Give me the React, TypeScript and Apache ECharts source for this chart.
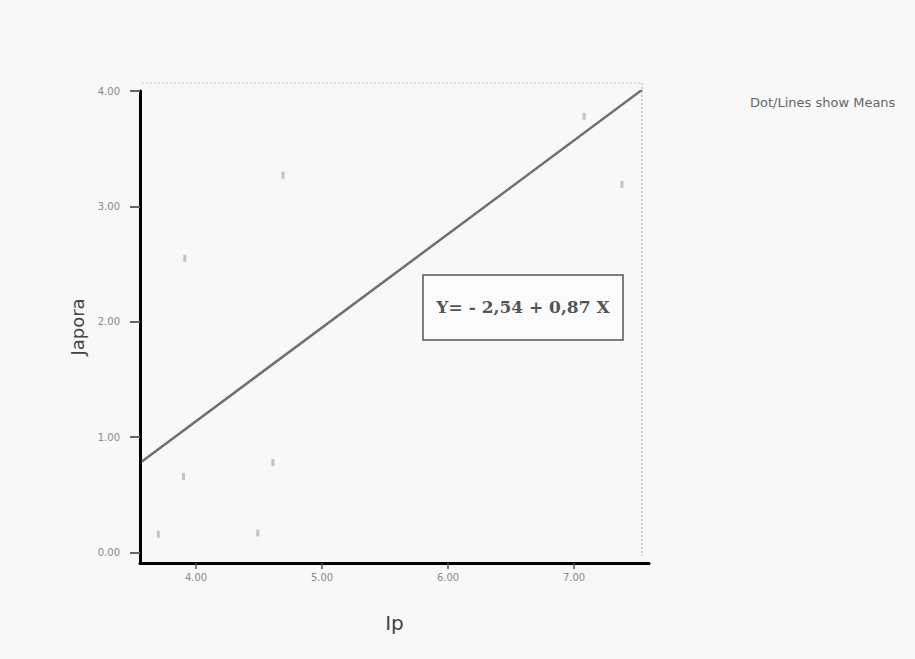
import React, { useEffect, useRef } from "react";
import * as echarts from "echarts";

const yTickValues = [0, 1, 2, 3, 4];
const xTickValues = [4, 5, 6, 7];
const fitLine = [
  [3.57, 0.79],
  [7.54, 4.01],
];
const casePoints = [
  [3.7, 0.16],
  [3.9, 0.66],
  [4.49, 0.17],
  [4.61, 0.78],
  [3.91, 2.55],
  [4.69, 3.27],
  [7.08, 3.78],
  [7.38, 3.19],
];
const equationText = "Y= - 2,54 + 0,87 X";
const noteText = "Dot/Lines show Means";
const xName = "Ip";
const yName = "Japora";

export default function App() {
  const ref = useRef<HTMLDivElement>(null);
  useEffect(() => {
    if (!ref.current) return;
    const chart = echarts.init(ref.current, null, { renderer: "svg" });
    chart.setOption({
      animation: false,
      backgroundColor: "#f8f8f8",
      grid: { left: 140, top: 91, right: 266, bottom: 96 },
      xAxis: {
        type: "value",
        min: 3.555,
        max: 7.595,
        name: xName,
        nameLocation: "middle",
        nameGap: 50,
        nameTextStyle: { fontSize: 20, color: "#444", fontFamily: "DejaVu Sans, sans-serif" },
        axisLine: { show: true, onZero: false, lineStyle: { color: "#000", width: 3 } },
        axisTick: { show: true, length: 6, lineStyle: { color: "#555", width: 1.5 }, customValues: xTickValues },
        axisLabel: {
          customValues: xTickValues,
          formatter: (v: number) => v.toFixed(2),
          fontSize: 10,
          fontFamily: "DejaVu Sans, sans-serif",
          color: "#888",
          margin: 9,
        },
        splitLine: { show: false },
      },
      yAxis: {
        type: "value",
        min: -0.09,
        max: 4.0,
        name: yName,
        nameLocation: "middle",
        nameGap: 54,
        nameTextStyle: { fontSize: 18, color: "#444", fontFamily: "DejaVu Sans, sans-serif" },
        axisLine: { show: true, onZero: false, lineStyle: { color: "#000", width: 3 } },
        axisTick: { show: true, length: 10, lineStyle: { color: "#666", width: 2 }, customValues: yTickValues },
        axisLabel: {
          customValues: yTickValues,
          formatter: (v: number) => v.toFixed(2),
          fontSize: 10,
          fontFamily: "DejaVu Sans, sans-serif",
          color: "#888",
          margin: 20,
        },
        splitLine: { show: false },
      },
      series: [
        {
          type: "line",
          data: fitLine,
          symbol: "none",
          lineStyle: { color: "#6f6f6f", width: 2.5 },
          z: 3,
        },
        {
          type: "scatter",
          data: casePoints,
          symbol: "rect",
          symbolSize: [3, 7],
          itemStyle: { color: "#b4b4b4" },
        },
      ],
      graphic: [
        {
          type: "line",
          shape: { x1: 142, y1: 83, x2: 642, y2: 83 },
          style: { stroke: "#c4c4c4", lineWidth: 1, lineDash: [2, 2] },
        },
        {
          type: "line",
          shape: { x1: 642, y1: 83, x2: 642, y2: 556 },
          style: { stroke: "#c4c4c4", lineWidth: 1.5, lineDash: [2, 2] },
        },
        {
          type: "rect",
          shape: { x: 423, y: 275, width: 200, height: 65 },
          style: { fill: "#fbfbfb", stroke: "#555", lineWidth: 1.5 },
        },
        {
          type: "text",
          x: 523,
          y: 307,
          style: {
            text: equationText,
            fontSize: 17,
            fontWeight: "bold",
            fontFamily: "DejaVu Serif, serif",
            fill: "#555",
            align: "center",
            verticalAlign: "middle",
          },
        },
        {
          type: "text",
          x: 750,
          y: 102,
          style: {
            text: noteText,
            fontSize: 13,
            fontFamily: "DejaVu Sans, sans-serif",
            fill: "#666",
            align: "left",
            verticalAlign: "middle",
          },
        },
      ],
    });
    return () => chart.dispose();
  }, []);
  return (
    <div
      ref={ref}
      style={{ position: "absolute", left: 0, top: 0, width: 915, height: 659 }}
    />
  );
}
